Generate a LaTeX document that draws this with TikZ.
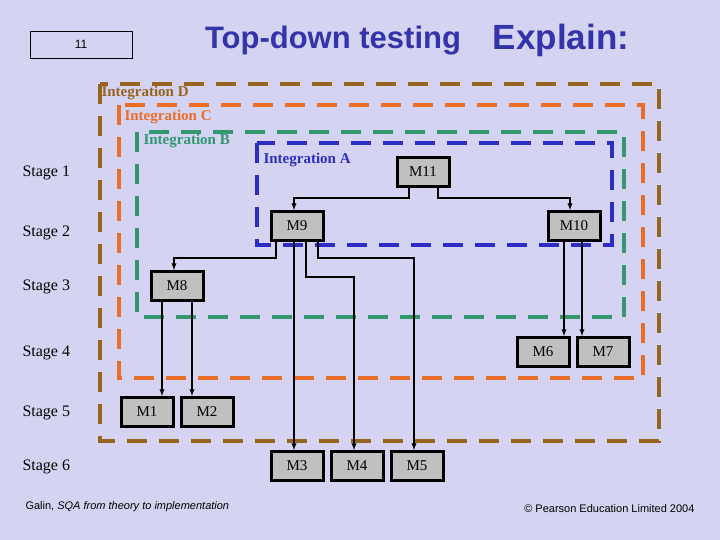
\documentclass[tikz,border=0pt]{standalone}
\usepackage{fontspec}
\setmainfont{Liberation Serif}
\newfontfamily\arial{Liberation Sans}
\definecolor{bg}{RGB}{212,212,242}
\definecolor{boxg}{RGB}{192,192,192}
\definecolor{ttl}{RGB}{51,51,170}
\definecolor{cD}{RGB}{150,100,30}
\definecolor{cC}{RGB}{235,110,40}
\definecolor{cB}{RGB}{50,150,110}
\definecolor{cA}{RGB}{45,45,195}
\begin{document}
\begin{tikzpicture}[x=1pt,y=-1pt,
  mod/.style={draw=black,line width=3pt,fill=boxg,minimum width=52pt,minimum height=29pt,inner sep=0pt,font=\fontsize{15}{15}\selectfont},
  conn/.style={-latex,line width=1.3pt},
  region/.style={line width=3.5pt,dash pattern=on 20pt off 12pt},
  stage/.style={anchor=west,font=\fontsize{16}{16}\selectfont},
  ilab/.style={anchor=west,font=\bfseries\fontsize{15}{15}\selectfont}]
\fill[bg] (0,0) rectangle (720,540);
\useasboundingbox (0,0) rectangle (720,540);
% regions
\draw[region,cD] (100,84) rectangle (659,441);
\draw[region,cC] (119,105) rectangle (643,378);
\draw[region,cB] (137,132) rectangle (624,317);
\draw[region,cA] (257,143) rectangle (612,245);
\node[ilab,text=cD] (lD) at (98,93) {Integration D};
\node[ilab,text=cC] (lC) at (121,117) {Integration C};
\node[ilab,text=cB] (lB) at (140,141) {Integration B};
\node[ilab,text=cA] (lA) at (260,160) {Integration A};
% title
\node[draw=black,line width=0.8pt,minimum width=102pt,minimum height=27pt,inner sep=0pt,font=\arial\fontsize{12}{12}\selectfont] (num) at (81,44.5) {11};
\node[text=ttl,font=\arial\bfseries\fontsize{31}{31}\selectfont] (t1) at (333,41) {Top-down testing};
\node[text=ttl,font=\arial\bfseries\fontsize{35}{35}\selectfont] (t2) at (561,40) {Explain:};
% stages
\foreach \y/\n in {173/1,233/2,287/3,353/4,413/5,467/6}
  \node[stage] (s\n) at (19,\y) {Stage \n};
% modules
\node[mod] (M11) at (423,172) {M11};
\node[mod] (M9) at (297,226) {M9};
\node[mod] (M10) at (574,226) {M10};
\node[mod] (M8) at (177,286) {M8};
\node[mod] (M6) at (543,352) {M6};
\node[mod] (M7) at (603,352) {M7};
\node[mod] (M1) at (147,412) {M1};
\node[mod] (M2) at (207,412) {M2};
\node[mod] (M3) at (297,466) {M3};
\node[mod] (M4) at (357,466) {M4};
\node[mod] (M5) at (417,466) {M5};
% connectors
\draw[conn] (M11.south -| 409,0) |- (294,198) -- (M9.north -| 294,0);
\draw[conn] (M11.south -| 438,0) |- (570,198) -- (M10.north -| 570,0);
\draw[conn] (M9.south -| 276,0) |- (174,258) -- (M8.north -| 174,0);
\draw[conn] (M9.south -| 294,0) -- (M3.north -| 294,0);
\draw[conn] (M9.south -| 306,0) |- (354,277) -- (M4.north -| 354,0);
\draw[conn] (M9.south -| 318,0) |- (414,258) -- (M5.north -| 414,0);
\draw[conn] (M10.south -| 564,0) -- (M6.north -| 564,0);
\draw[conn] (M10.south -| 582,0) -- (M7.north -| 582,0);
\draw[conn] (M8.south -| 162,0) -- (M1.north -| 162,0);
\draw[conn] (M8.south -| 192,0) -- (M2.north -| 192,0);
% footers
\node[anchor=west,font=\arial\fontsize{11}{11}\selectfont] (f1) at (22,507) {Galin, \textit{SQA from theory to implementation}};
\node[anchor=east,font=\arial\fontsize{11}{11}\selectfont] (f2) at (698,509) {© Pearson Education Limited 2004};
\end{tikzpicture}
\end{document}
